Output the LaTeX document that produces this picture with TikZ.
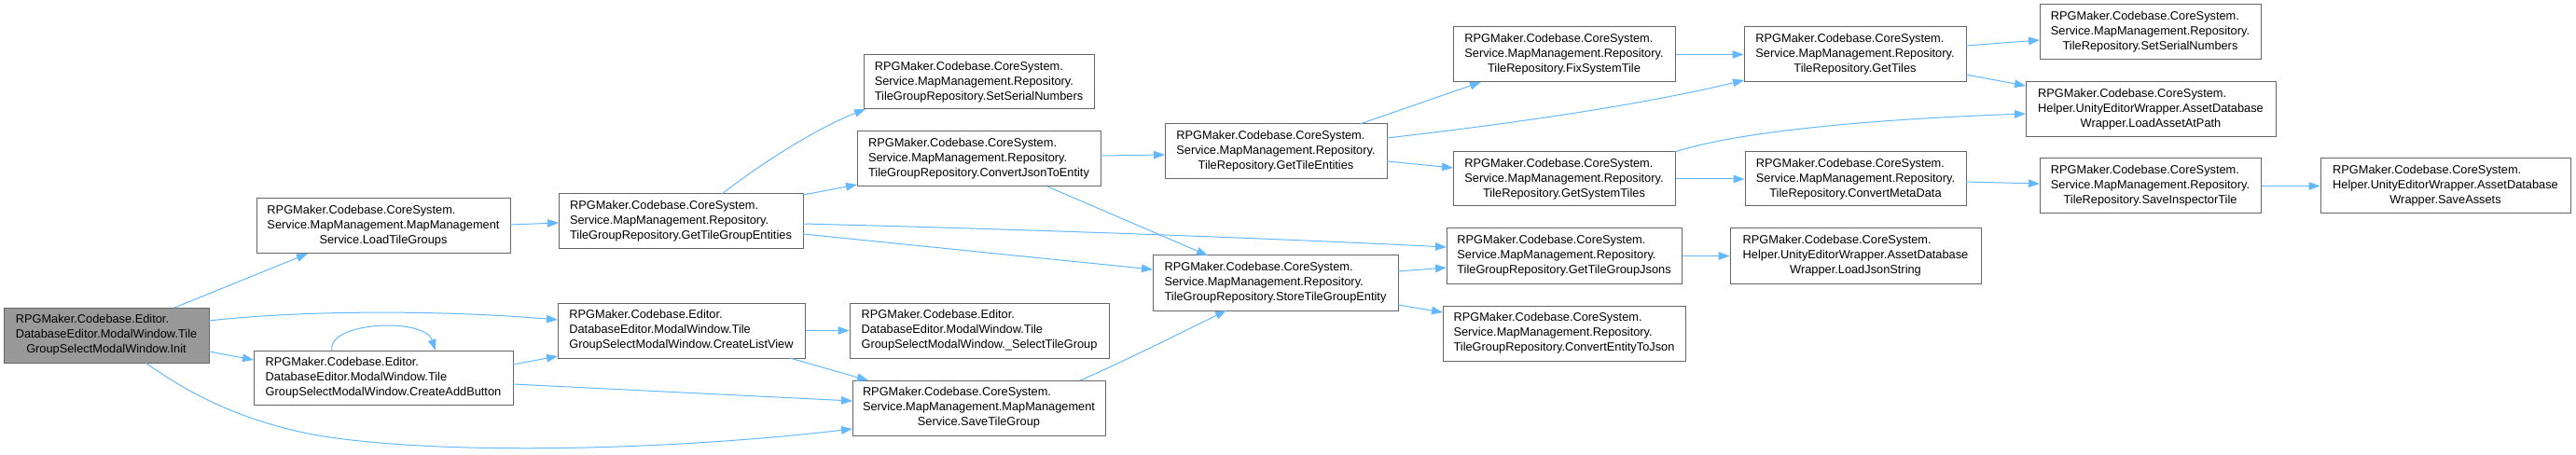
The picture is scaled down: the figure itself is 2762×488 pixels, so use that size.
\documentclass[tikz,border=0pt]{standalone}
\usepackage{fontspec}
\setmainfont{Liberation Sans}
\usetikzlibrary{arrows.meta}
\definecolor{edgeblue}{HTML}{63B8FF}
\definecolor{boxline}{HTML}{666666}
\definecolor{rootfill}{HTML}{999999}
\newcommand{\nlab}[3]{\begin{tabular}{@{}l@{}}#1\\#2\\\multicolumn{1}{@{}c@{}}{#3}\end{tabular}}
\begin{document}
\begin{tikzpicture}[x=0.75pt,y=-0.75pt,
  fn/.style={draw=boxline, fill=white, line width=0.75pt, inner sep=0pt,
    font=\fontsize{9.6}{12}\selectfont, text=black},
  root/.style={fn, fill=rootfill},
  sz/.style 2 args={minimum width={#1*0.75pt}, minimum height={#2*0.75pt}},
  call/.style={draw=edgeblue, line width=0.75pt, -{Triangle[length=9pt,width=6.4pt]}},
]
\useasboundingbox (0,0) rectangle (2762,488);

% nodes
\node[root, sz={220}{59}] (init) at (114,359.5)
  {\nlab{RPGMaker.Codebase.Editor.}{DatabaseEditor.ModalWindow.Tile}{GroupSelectModalWindow.Init}};
\node[fn, sz={272}{59}] (loadtg) at (411,242.5)
  {\nlab{RPGMaker.Codebase.CoreSystem.}{Service.MapManagement.MapManagement}{Service.LoadTileGroups}};
\node[fn, sz={278}{58}] (addbtn) at (411,405)
  {\nlab{RPGMaker.Codebase.Editor.}{DatabaseEditor.ModalWindow.Tile}{GroupSelectModalWindow.CreateAddButton}};
\node[fn, sz={247}{58}] (tgrserial) at (1049.5,88)
  {\nlab{RPGMaker.Codebase.CoreSystem.}{Service.MapManagement.Repository.}{TileGroupRepository.SetSerialNumbers}};
\node[fn, sz={261}{59}] (cjte) at (1049.5,170.5)
  {\nlab{RPGMaker.Codebase.CoreSystem.}{Service.MapManagement.Repository.}{TileGroupRepository.ConvertJsonToEntity}};
\node[fn, sz={262}{59}] (gtge) at (730,237.5)
  {\nlab{RPGMaker.Codebase.CoreSystem.}{Service.MapManagement.Repository.}{TileGroupRepository.GetTileGroupEntities}};
\node[fn, sz={265}{59}] (listview) at (730.5,354.5)
  {\nlab{RPGMaker.Codebase.Editor.}{DatabaseEditor.ModalWindow.Tile}{GroupSelectModalWindow.CreateListView}};
\node[fn, sz={278}{59}] (selecttg) at (1050,354.5)
  {\nlab{RPGMaker.Codebase.Editor.}{DatabaseEditor.ModalWindow.Tile}{GroupSelectModalWindow.\_SelectTileGroup}};
\node[fn, sz={271}{59}] (savetg) at (1049.5,437.5)
  {\nlab{RPGMaker.Codebase.CoreSystem.}{Service.MapManagement.MapManagement}{Service.SaveTileGroup}};
\node[fn, sz={238}{59}] (gte) at (1368,162.5)
  {\nlab{RPGMaker.Codebase.CoreSystem.}{Service.MapManagement.Repository.}{TileRepository.GetTileEntities}};
\node[fn, sz={263}{59}] (store) at (1367.5,303.5)
  {\nlab{RPGMaker.Codebase.CoreSystem.}{Service.MapManagement.Repository.}{TileGroupRepository.StoreTileGroupEntity}};
\node[fn, sz={238}{59}] (fixsys) at (1677,58.5)
  {\nlab{RPGMaker.Codebase.CoreSystem.}{Service.MapManagement.Repository.}{TileRepository.FixSystemTile}};
\node[fn, sz={238}{58}] (getsys) at (1677,192)
  {\nlab{RPGMaker.Codebase.CoreSystem.}{Service.MapManagement.Repository.}{TileRepository.GetSystemTiles}};
\node[fn, sz={252}{59}] (gtgj) at (1677,274.5)
  {\nlab{RPGMaker.Codebase.CoreSystem.}{Service.MapManagement.Repository.}{TileGroupRepository.GetTileGroupJsons}};
\node[fn, sz={260}{59}] (cetj) at (1677,357.5)
  {\nlab{RPGMaker.Codebase.CoreSystem.}{Service.MapManagement.Repository.}{TileGroupRepository.ConvertEntityToJson}};
\node[fn, sz={238}{59}] (gettiles) at (1989,58.5)
  {\nlab{RPGMaker.Codebase.CoreSystem.}{Service.MapManagement.Repository.}{TileRepository.GetTiles}};
\node[fn, sz={237}{58}] (convmeta) at (1989.5,192)
  {\nlab{RPGMaker.Codebase.CoreSystem.}{Service.MapManagement.Repository.}{TileRepository.ConvertMetaData}};
\node[fn, sz={269}{59}] (loadjson) at (1989.5,274.5)
  {\nlab{RPGMaker.Codebase.CoreSystem.}{Helper.UnityEditorWrapper.AssetDatabase}{Wrapper.LoadJsonString}};
\node[fn, sz={237}{59}] (trserial) at (2305.5,34.5)
  {\nlab{RPGMaker.Codebase.CoreSystem.}{Service.MapManagement.Repository.}{TileRepository.SetSerialNumbers}};
\node[fn, sz={268}{59}] (loadasset) at (2306,117.5)
  {\nlab{RPGMaker.Codebase.CoreSystem.}{Helper.UnityEditorWrapper.AssetDatabase}{Wrapper.LoadAssetAtPath}};
\node[fn, sz={237}{59}] (saveinsp) at (2305.5,199.5)
  {\nlab{RPGMaker.Codebase.CoreSystem.}{Service.MapManagement.Repository.}{TileRepository.SaveInspectorTile}};
\node[fn, sz={268}{59}] (saveassets) at (2622,199.5)
  {\nlab{RPGMaker.Codebase.CoreSystem.}{Helper.UnityEditorWrapper.AssetDatabase}{Wrapper.SaveAssets}};

% edges
\draw[call] ([shift={(73,-29.5)}]init.center) -- ([shift={(-81,29.5)}]loadtg.center);
\draw[call] ([shift={(110,-15.5)}]init.center) .. controls (330,332) and (480,333) .. ([shift={(-132.5,-11.5)}]listview.center);
\draw[call] ([shift={(110,17.5)}]init.center) -- ([shift={(-139,-19)}]addbtn.center);
\draw[call] ([shift={(42,29.5)}]init.center) .. controls (200,420) and (250,448) .. (330,465)
  .. controls (450,488) and (700,485) .. ([shift={(-135.5,22.5)}]savetg.center);
\draw[call] ([shift={(-55,-29)}]addbtn.center) .. controls (350,345) and (455,340) .. ([shift={(56,-29)}]addbtn.center);
\draw[call] ([shift={(139,-14)}]addbtn.center) -- ([shift={(-132.5,27.5)}]listview.center);
\draw[call] ([shift={(139,7)}]addbtn.center) -- ([shift={(-135.5,-7.5)}]savetg.center);
\draw[call] ([shift={(136,-1.5)}]loadtg.center) -- ([shift={(-131,1.5)}]gtge.center);
\draw[call] ([shift={(44,-29.5)}]gtge.center) .. controls (810,180) and (870,140) .. ([shift={(-121.5,29)}]tgrserial.center);
\draw[call] ([shift={(131,-28.5)}]gtge.center) -- ([shift={(-130.5,27.5)}]cjte.center);
\draw[call] ([shift={(131,2.5)}]gtge.center) .. controls (1100,246) and (1350,255) .. ([shift={(-126,-9.5)}]gtgj.center);
\draw[call] ([shift={(131,13.5)}]gtge.center) -- ([shift={(-131.5,-14.5)}]store.center);
\draw[call] ([shift={(130.5,-3.5)}]cjte.center) -- ([shift={(-119,3.5)}]gte.center);
\draw[call] ([shift={(73.5,29.5)}]cjte.center) -- ([shift={(-72.5,-29.5)}]store.center);
\draw[call] (listview.east) -- (selecttg.west);
\draw[call] ([shift={(116.5,29.5)}]listview.center) -- ([shift={(-118.5,-29.5)}]savetg.center);
\draw[call] ([shift={(108.5,-29.5)}]savetg.center) .. controls (1200,390) and (1260,360) .. ([shift={(-52.5,29.5)}]store.center);
\draw[call] ([shift={(131.5,-12.5)}]store.center) -- ([shift={(-126,12.5)}]gtgj.center);
\draw[call] ([shift={(131.5,23.5)}]store.center) -- ([shift={(-130,-22.5)}]cetj.center);
\draw[call] (gtgj.east) -- (loadjson.west);
\draw[call] ([shift={(90,-29.5)}]gte.center) -- ([shift={(-89,29.5)}]fixsys.center);
\draw[call] ([shift={(119,-14.5)}]gte.center) .. controls (1600,135) and (1750,115) .. ([shift={(-119,27.5)}]gettiles.center);
\draw[call] ([shift={(119,10.5)}]gte.center) -- ([shift={(-119,-12)}]getsys.center);
\draw[call] (fixsys.east) -- (gettiles.west);
\draw[call] ([shift={(119,-29)}]getsys.center) .. controls (1840,148) and (1950,130) .. ([shift={(-134,4.5)}]loadasset.center);
\draw[call] (getsys.east) -- (convmeta.west);
\draw[call] ([shift={(119,-9.5)}]gettiles.center) -- ([shift={(-118.5,8.5)}]trserial.center);
\draw[call] ([shift={(119,21.5)}]gettiles.center) -- ([shift={(-134,-25.5)}]loadasset.center);
\draw[call] ([shift={(118.5,3)}]convmeta.center) -- ([shift={(-118.5,-2.5)}]saveinsp.center);
\draw[call] (saveinsp.east) -- (saveassets.west);
\end{tikzpicture}
\end{document}
